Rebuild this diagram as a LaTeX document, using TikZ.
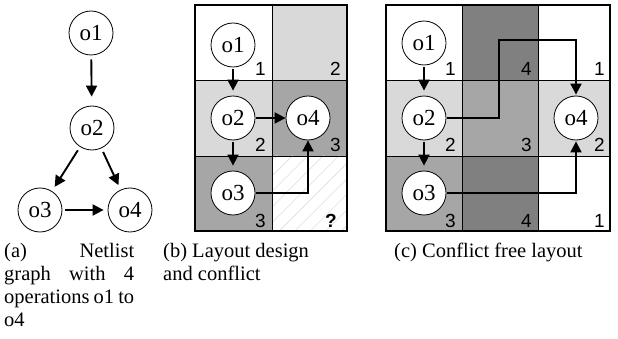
\documentclass[tikz,border=0pt]{standalone}
\usepackage{fontspec}
\setmainfont{Liberation Serif}
\newfontfamily\digitfont{Liberation Sans}
\usetikzlibrary{arrows.meta,patterns.meta}

\definecolor{shadeA}{HTML}{D9D9D9}
\definecolor{shadeB}{HTML}{A6A6A6}
\definecolor{shadeC}{HTML}{808080}
\definecolor{hatchgray}{HTML}{DDDDDD}

\begin{document}
\begin{tikzpicture}[x=1pt, y=-1pt,
  op/.style={circle, draw, line width=0.8pt, fill=white,
    minimum size=44pt, inner sep=0pt,
    font=\fontsize{23}{23}\selectfont},
  link/.style={line width=1.9pt, -{Triangle[length=11pt,width=11pt]}},
  num/.style={anchor=base east, inner sep=0pt,
    font=\digitfont\fontsize{19}{19}\selectfont},
  grid/.style={line width=0.8pt},
  frame/.style={line width=2.2pt},
  caption/.style={anchor=north west, inner sep=0pt,
    font=\fontsize{20.5}{23}\selectfont}]
\useasboundingbox (0,0) rectangle (618,339);

% ---------- (a) netlist graph ----------
\node[op] (a1) at (91,33)  {o1};
\node[op] (a2) at (92,128) {o2};
\node[op] (a3) at (40,210) {o3};
\node[op] (a4) at (130,210){o4};
\draw[link, shorten <=4pt, shorten >=9pt] (a1) -- (a2);
\draw[link, shorten <=4pt, shorten >=5pt] (a2) -- (a3);
\draw[link, shorten <=4pt, shorten >=5pt] (a2) -- (a4);
\draw[link, shorten <=3pt, shorten >=4pt] (a3) -- (a4);

% ---------- (b) layout with conflict ----------
\fill[white]  (195,5)   rectangle (272,80);
\fill[shadeA] (272,5)   rectangle (347,80);
\fill[shadeA] (195,80)  rectangle (272,156);
\fill[shadeB] (272,80)  rectangle (347,156);
\fill[shadeB] (195,156) rectangle (272,231);
\fill[white]  (272,156) rectangle (347,231);
\begin{scope}
  \clip (272,156) rectangle (347,231);
  \fill[pattern={Lines[angle=45,distance=11pt,line width=0.6pt]},
        pattern color=hatchgray] (272,156) rectangle (347,231);
\end{scope}
\draw[grid] (272,5) -- (272,231);
\draw[grid] (195,80) -- (347,80);
\draw[grid] (195,156) -- (347,156);
\draw[frame] (195,5) rectangle (347,231);

\node[num] (b11) at (266,76)  {1};
\node[num] (b12) at (341,76)  {2};
\node[num] (b21) at (266,152) {2};
\node[num] (b22) at (341,152) {3};
\node[num] (b31) at (266,227) {3};
\node[num, font=\digitfont\bfseries\fontsize{19}{19}\selectfont] (b32) at (337,227) {?};

\node[op] (b1) at (233,45)  {o1};
\node[op] (b2) at (233,118) {o2};
\node[op] (b4) at (308,118) {o4};
\node[op] (b3) at (233,193) {o3};
\draw[link, shorten <=2pt, shorten >=5pt] (b1) -- (b2);
\draw[link, shorten <=2pt, shorten >=5pt] (b2) -- (b3);
\draw[link, shorten <=1pt] (b2) -- (b4);
\draw[link, shorten <=1pt] (b3.east) -| (b4.south);

% ---------- (c) conflict free layout ----------
\fill[white]  (386,5)   rectangle (462,80);
\fill[shadeC] (462,5)   rectangle (538,80);
\fill[white]  (538,5)   rectangle (610,80);
\fill[shadeA] (386,80)  rectangle (462,156);
\fill[shadeB] (462,80)  rectangle (538,156);
\fill[shadeA] (538,80)  rectangle (610,156);
\fill[shadeB] (386,156) rectangle (462,231);
\fill[shadeC] (462,156) rectangle (538,231);
\fill[white]  (538,156) rectangle (610,231);
\draw[grid] (462,5) -- (462,231);
\draw[grid] (538,5) -- (538,231);
\draw[grid] (386,80) -- (610,80);
\draw[grid] (386,156) -- (610,156);
\draw[frame] (386,5) rectangle (610,231);

\node[num] (c11) at (456,76)  {1};
\node[num] (c12) at (532,76)  {4};
\node[num] (c13) at (605,76)  {1};
\node[num] (c21) at (456,152) {2};
\node[num] (c22) at (532,152) {3};
\node[num] (c23) at (605,152) {2};
\node[num] (c31) at (456,227) {3};
\node[num] (c32) at (532,227) {4};
\node[num] (c33) at (605,227) {1};

\node[op] (c1) at (424,43)  {o1};
\node[op] (c2) at (424,118) {o2};
\node[op] (c3) at (424,193) {o3};
\node[op] (c4) at (576,118) {o4};
\coordinate (cbend) at (499,40);
\draw[link, shorten <=2pt, shorten >=5pt] (c1) -- (c2);
\draw[link, shorten <=2pt, shorten >=5pt] (c2) -- (c3);
\draw[link, shorten <=1pt, shorten >=1pt] (c2.east) -| (cbend) -| (c4.north);
\draw[link, shorten <=1pt, shorten >=1pt] (c3.east) -| (c4.south);

% ---------- captions ----------
\node[caption] (capa) at (4,243) {\parbox[t]{130pt}{%
  \hbox to 130pt{(a)\hfill Netlist}%
  \hbox to 130pt{graph\hfill with\hfill 4}%
  \hbox to 130pt{operations\hfill o1\hfill to}%
  \hbox{o4}}};
\node[caption] (capb) at (163,243) {\parbox[t]{160pt}{%
  \hbox{(b) Layout design}%
  \hbox{and conflict}}};
\node[caption] (capc) at (394,243) {\parbox[t]{210pt}{%
  \hbox{(c) Conflict free layout}}};
\end{tikzpicture}
\end{document}
